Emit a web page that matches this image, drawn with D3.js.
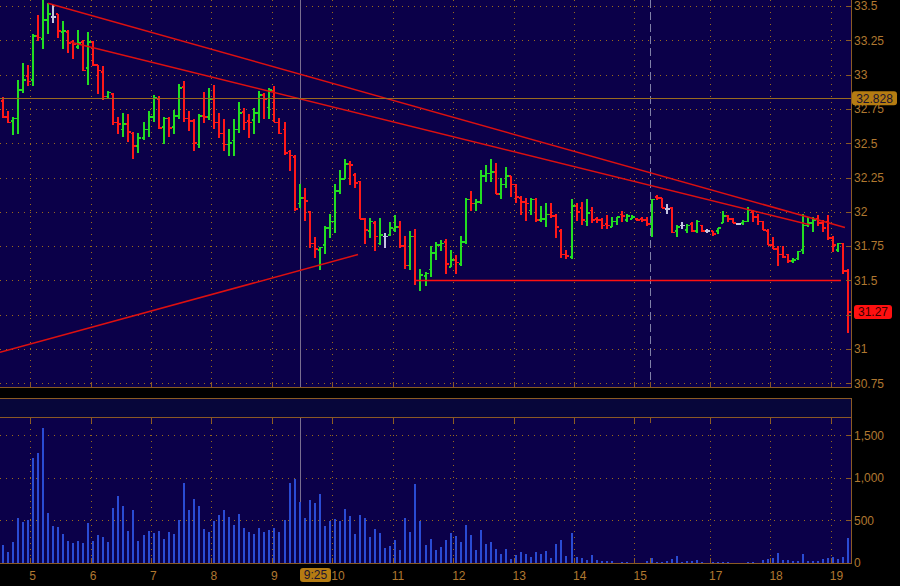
<!DOCTYPE html>
<html><head><meta charset="utf-8">
<script src="https://cdn.jsdelivr.net/npm/d3@7"></script>
<style>html,body{margin:0;padding:0;background:#000;overflow:hidden;} svg{display:block;}</style>
</head><body>
<svg id="c" width="900" height="586"></svg>
<script>
// ---------------- DATA ----------------
const sessions = [{start: "4:30", bars: 129}, {start: "16:00", bars: 40}];
const open = [32.81,32.69,32.66,32.68,32.89,32.99,32.96,33.28,33.26,33.40,33.42,33.44,33.31,33.31,33.24,33.20,33.24,33.05,33.24,33.07,
33.02,32.84,32.86,32.65,32.60,32.64,32.57,32.48,32.54,32.60,32.69,32.82,32.62,32.68,32.62,32.70,32.91,32.68,32.66,32.49,
32.70,32.69,32.82,32.65,32.57,32.49,32.52,32.60,32.73,32.66,32.67,32.72,32.85,32.76,32.88,32.65,32.60,32.44,32.40,32.06,
32.10,32.00,31.77,31.72,31.76,31.88,31.93,32.15,32.24,32.35,32.27,32.22,31.95,31.86,31.92,31.77,31.82,31.83,31.87,31.89,
31.75,31.61,31.82,31.50,31.53,31.58,31.70,31.76,31.78,31.60,31.65,31.62,31.78,32.09,32.06,32.07,32.26,32.28,32.29,32.13,
32.20,32.26,32.20,32.10,32.07,32.01,32.09,31.94,31.95,31.98,31.97,31.86,31.69,31.67,32.04,32.03,31.93,32.01,31.95,31.94,
31.91,31.89,31.93,31.98,31.94,31.95,31.95,31.95,31.94,31.91,32.11,32.10,32.02,32.03,31.86,31.90,31.87,31.91,31.86,31.90,
31.86,31.86,31.86,31.92,31.97,31.95,31.91,31.92,31.93,32.00,31.96,31.93,31.86,31.76,31.73,31.69,31.69,31.64,31.66,31.72,
31.90,31.92,31.95,31.92,31.93,31.81,31.72,31.77,31.57];
const high = [32.83,32.73,32.69,32.96,33.08,33.07,33.29,33.43,33.54,33.52,33.50,33.44,33.39,33.32,33.25,33.32,33.25,33.31,33.24,33.07,
33.06,32.88,32.86,32.69,32.72,32.71,32.58,32.57,32.65,32.73,32.85,32.84,32.69,32.69,32.74,32.93,32.95,32.73,32.67,32.71,
32.87,32.90,32.92,32.72,32.67,32.60,32.67,32.80,32.75,32.71,32.75,32.88,32.86,32.90,32.91,32.68,32.65,32.45,32.41,32.20,
32.17,32.00,31.81,31.74,31.89,31.98,32.20,32.30,32.38,32.37,32.28,32.22,31.95,31.95,31.93,31.95,31.84,31.92,31.97,31.93,
31.82,31.86,31.87,31.58,31.56,31.75,31.78,31.79,31.80,31.72,31.68,31.82,32.10,32.15,32.09,32.30,32.34,32.38,32.35,32.24,
32.32,32.26,32.20,32.11,32.10,32.10,32.10,32.04,32.06,32.06,31.98,31.87,31.72,32.09,32.06,32.07,32.09,32.03,31.96,31.95,
31.97,31.96,31.96,32.00,31.98,31.97,31.95,31.96,31.96,32.09,32.12,32.10,32.05,32.03,31.90,31.92,31.91,31.92,31.94,31.90,
31.87,31.86,31.88,32.00,31.97,31.95,31.91,31.94,32.03,32.01,31.98,31.93,31.87,31.81,31.75,31.75,31.69,31.66,31.71,31.98,
31.96,31.96,31.97,31.94,31.97,31.82,31.77,31.77,31.58];
const low = [32.69,32.65,32.56,32.57,32.87,32.92,32.92,33.25,33.19,33.30,33.38,33.27,33.19,33.16,33.12,33.19,33.03,32.93,33.07,32.86,
32.82,32.83,32.64,32.57,32.55,32.51,32.39,32.43,32.53,32.55,32.66,32.61,32.50,32.55,32.57,32.68,32.66,32.59,32.45,32.47,
32.65,32.67,32.61,32.54,32.45,32.41,32.41,32.58,32.60,32.54,32.57,32.65,32.68,32.68,32.66,32.57,32.42,32.30,32.01,32.03,
31.94,31.74,31.67,31.58,31.70,31.81,31.85,32.13,32.24,32.20,32.18,31.95,31.77,31.81,31.72,31.76,31.74,31.83,31.86,31.74,
31.59,31.58,31.47,31.43,31.46,31.53,31.65,31.72,31.55,31.60,31.55,31.61,31.77,32.01,32.01,32.06,32.22,32.22,32.13,32.10,
32.18,32.11,32.07,31.98,31.94,31.98,31.93,31.93,31.89,31.96,31.81,31.67,31.66,31.66,31.94,31.91,31.90,31.92,31.92,31.88,
31.88,31.89,31.91,31.93,31.93,31.95,31.94,31.93,31.90,31.82,32.09,32.03,31.99,31.85,31.82,31.88,31.85,31.86,31.85,31.86,
31.85,31.83,31.84,31.92,31.93,31.92,31.91,31.91,31.93,31.93,31.91,31.87,31.76,31.73,31.61,31.67,31.63,31.63,31.65,31.70,
31.89,31.86,31.90,31.86,31.80,31.71,31.71,31.55,31.12];
const close = [32.69,32.65,32.68,32.89,32.96,32.95,33.28,33.27,33.40,33.44,33.42,33.32,33.32,33.23,33.22,33.23,33.03,33.24,33.07,33.03,
32.84,32.87,32.65,32.64,32.64,32.58,32.48,32.54,32.60,32.69,32.83,32.61,32.68,32.61,32.70,32.90,32.68,32.66,32.50,32.70,
32.69,32.82,32.65,32.57,32.49,32.50,32.60,32.72,32.65,32.65,32.72,32.85,32.82,32.89,32.65,32.57,32.43,32.41,32.02,32.10,
32.08,31.77,31.73,31.74,31.88,31.93,32.15,32.24,32.35,32.34,32.21,31.95,31.87,31.93,31.82,31.83,31.82,31.88,31.89,31.75,
31.61,31.82,31.50,31.54,31.55,31.70,31.76,31.77,31.62,31.65,31.63,31.78,32.09,32.06,32.07,32.26,32.28,32.29,32.13,32.20,
32.26,32.20,32.11,32.07,32.06,32.09,31.94,31.95,31.98,31.97,31.89,31.69,31.68,32.04,32.00,31.94,31.99,31.94,31.94,31.90,
31.90,31.93,31.96,31.97,31.97,31.96,31.94,31.94,31.91,32.09,32.10,32.03,32.02,31.85,31.89,31.90,31.90,31.86,31.93,31.86,
31.86,31.84,31.88,31.97,31.95,31.92,31.91,31.93,32.01,31.96,31.93,31.87,31.76,31.73,31.69,31.67,31.64,31.65,31.71,31.90,
31.92,31.94,31.92,31.88,31.81,31.76,31.77,31.57,31.27];
const volume = [211,129,247,529,482,505,1234,1293,1586,588,435,423,341,259,235,259,235,470,259,329,
306,247,646,787,670,376,623,259,329,376,353,376,282,364,341,505,940,623,752,670,
400,364,494,564,623,541,447,576,411,364,341,411,364,388,411,364,505,940,987,717,
529,740,705,811,435,494,517,494,635,552,341,564,529,306,400,353,176,200,270,153,
529,364,928,494,211,282,153,188,270,353,317,247,447,329,153,388,223,247,165,106,
165,47,94,129,106,71,129,106,141,59,223,270,82,353,71,59,35,94,35,24,
24,24,0,12,12,0,0,0,24,59,12,12,24,47,82,12,24,24,35,12,
0,12,12,12,12,0,0,0,12,12,0,35,47,59,117,35,35,24,24,106,
24,24,24,47,59,71,47,71,294];
const priceTicks = [30.75,31,31.25,31.5,31.75,32,32.25,32.5,32.75,33,33.25,33.5];
const volumeTicks = [0,500,1000,1500];
const hourLabels = ["5","6","7","8","9","10","11","12","13","14","15","17","18","19"];
const trendLines = [
  {i1: 9, p1: 33.52, i2: 167.3, p2: 31.886},
  {i1: 13.4, p1: 33.238, i2: 160.3, p2: 31.906},
  {i1: -0.5, p1: 30.976, i2: 70.6, p2: 31.689}
];
const supportLine = {i1: 82, i2: 166.5, p: 31.5};
const cursorBar = 59, cursorPrice = 32.828, cursorTime = "9:25";
const lastPrice = 31.27;

// ---------------- LAYOUT ----------------
const plotRight = 851;
const priceTop = 0, priceBottom = 387;
const sepTop = 398, sepBottom = 417;
const volTop = 417, volBottom = 563;
const bg = "#0b0049", sepBg = "#07063a", border = "#8a5a24", gridCol = "#9a6a1c", labelCol = "#b07830";
const upCol = "#22dd22", downCol = "#ff1818", flatCol = "#c4c4e0";

const N = open.length;
const times = [];
sessions.forEach(s => {
  const [h, m] = s.start.split(":").map(Number);
  for (let j = 0; j < s.bars; j++) times.push(h * 60 + m + 5 * j);
});

const x = d3.scaleLinear().domain([-0.5, N - 0.5]).range([0, plotRight]);
const y = d3.scaleLinear().domain([30.7235, 33.5437]).range([priceBottom, priceTop]);
const yv = d3.scaleLinear().domain([0, 1715]).range([volBottom, volTop]);

const hourTicks = hourLabels.map(l => ({label: l, pos: x(times.indexOf(+l * 60) - 0.5)}));
const breaks = [];
for (let k = 1; k < N; k++) if (times[k] - times[k - 1] > 5) breaks.push(x(k - 0.5));

const svg = d3.select("#c");
svg.append("rect").attr("width", 900).attr("height", 586).attr("fill", "#000");
const defs = svg.append("defs");
defs.append("clipPath").attr("id", "pc").append("rect").attr("x", 0).attr("y", priceTop).attr("width", plotRight).attr("height", priceBottom - priceTop);
defs.append("clipPath").attr("id", "vc").append("rect").attr("x", 0).attr("y", volTop).attr("width", plotRight).attr("height", volBottom - volTop);

// panels
svg.append("rect").attr("x", 0).attr("y", priceTop).attr("width", plotRight).attr("height", priceBottom - priceTop).attr("fill", bg);
svg.append("rect").attr("x", 0).attr("y", sepTop).attr("width", plotRight).attr("height", sepBottom - sepTop).attr("fill", sepBg);
svg.append("rect").attr("x", 0).attr("y", volTop).attr("width", plotRight).attr("height", volBottom - volTop).attr("fill", bg);

const crisp = v => Math.round(v) + 0.5;

// grids
const g = svg.append("g").attr("stroke", gridCol).attr("stroke-width", 1).attr("stroke-dasharray", "1,5").attr("shape-rendering", "crispEdges");
priceTicks.forEach(p => g.append("line").attr("x1", 0).attr("x2", plotRight).attr("y1", crisp(y(p))).attr("y2", crisp(y(p))));
volumeTicks.filter(v => v > 0).forEach(v => g.append("line").attr("x1", 0).attr("x2", plotRight).attr("y1", crisp(yv(v))).attr("y2", crisp(yv(v))));
hourTicks.forEach(t => {
  g.append("line").attr("x1", crisp(t.pos)).attr("x2", crisp(t.pos)).attr("y1", priceTop).attr("y2", priceBottom);
  g.append("line").attr("x1", crisp(t.pos)).attr("x2", crisp(t.pos)).attr("y1", volTop).attr("y2", volBottom);
});
// session break dashed
breaks.forEach(b => svg.append("line").attr("x1", crisp(b)).attr("x2", crisp(b)).attr("y1", priceTop).attr("y2", priceBottom)
  .attr("stroke", "#8080a8").attr("stroke-dasharray", "8,4").attr("shape-rendering", "crispEdges"));

// crosshair vertical
const cx = crisp(x(cursorBar));
[[priceTop, priceBottom], [volTop, volBottom]].forEach(([a, b]) =>
  svg.append("line").attr("x1", cx).attr("x2", cx).attr("y1", a).attr("y2", b).attr("stroke", "#7a6e90").attr("shape-rendering", "crispEdges"));

// OHLC bars
const bars = svg.append("g").attr("clip-path", "url(#pc)").attr("stroke-width", 1.7).attr("shape-rendering", "crispEdges");
const bw = x(1) - x(0);
d3.range(N).forEach(k => {
  const col = close[k] > open[k] ? upCol : close[k] < open[k] ? downCol : flatCol;
  const xc = Math.round(x(k));
  const gg = bars.append("g").attr("stroke", col);
  gg.append("line").attr("x1", xc).attr("x2", xc).attr("y1", y(high[k]) - 0.5).attr("y2", y(low[k]) + 0.5);
  gg.append("line").attr("x1", xc - 2.5).attr("x2", xc).attr("y1", y(open[k])).attr("y2", y(open[k]));
  gg.append("line").attr("x1", xc).attr("x2", xc + 2.5).attr("y1", y(close[k])).attr("y2", y(close[k]));
});

// volume bars
svg.append("g").attr("clip-path", "url(#vc)").selectAll("rect").data(volume).join("rect")
  .attr("x", (d, k) => Math.round(x(k)) - 1).attr("width", 2)
  .attr("y", d => yv(d)).attr("height", d => yv(0) - yv(d))
  .attr("fill", "#2a4bd4").attr("shape-rendering", "crispEdges");

// trend lines
const tl = svg.append("g").attr("clip-path", "url(#pc)");
trendLines.forEach(t => tl.append("line").attr("x1", x(t.i1)).attr("y1", y(t.p1)).attr("x2", x(t.i2)).attr("y2", y(t.p2))
  .attr("stroke", "#dd1010").attr("stroke-width", 1.5));
tl.append("line").attr("x1", x(supportLine.i1)).attr("x2", x(supportLine.i2)).attr("y1", y(supportLine.p)).attr("y2", y(supportLine.p))
  .attr("stroke", "#ff1010").attr("stroke-width", 1.5);

// crosshair horizontal
svg.append("line").attr("x1", 0).attr("x2", plotRight).attr("y1", crisp(y(cursorPrice))).attr("y2", crisp(y(cursorPrice)))
  .attr("stroke", "#9a6a1e").attr("stroke-width", 1).attr("shape-rendering", "crispEdges");

// borders & ticks
const b = svg.append("g").attr("stroke", border).attr("stroke-width", 1).attr("shape-rendering", "crispEdges");
[[priceBottom], [sepTop], [sepBottom], [volBottom]].forEach(([yy]) =>
  b.append("line").attr("x1", 0).attr("x2", plotRight + 0.5).attr("y1", yy + 0.5).attr("y2", yy + 0.5));
b.append("line").attr("x1", plotRight + 0.5).attr("x2", plotRight + 0.5).attr("y1", priceTop).attr("y2", priceBottom + 1);
b.append("line").attr("x1", plotRight + 0.5).attr("x2", plotRight + 0.5).attr("y1", sepTop).attr("y2", volBottom + 1);
const allX = hourTicks.map(t => t.pos).concat(breaks);
allX.forEach(px => {
  const xx = crisp(px);
  b.append("line").attr("x1", xx).attr("x2", xx).attr("y1", priceBottom - 5).attr("y2", priceBottom);
  b.append("line").attr("x1", xx).attr("x2", xx).attr("y1", volTop).attr("y2", volTop + 6);
  b.append("line").attr("x1", xx).attr("x2", xx).attr("y1", volBottom - 5).attr("y2", volBottom);
});
priceTicks.forEach(p => b.append("line").attr("x1", plotRight - 5).attr("x2", plotRight).attr("y1", crisp(y(p))).attr("y2", crisp(y(p))));
volumeTicks.forEach(v => b.append("line").attr("x1", plotRight - 5).attr("x2", plotRight).attr("y1", crisp(yv(v))).attr("y2", crisp(yv(v))));

// labels
const font = "'Liberation Sans', Arial, sans-serif";
const lab = svg.append("g").attr("font-family", font).attr("font-size", 12).attr("fill", labelCol);
priceTicks.forEach(p => lab.append("text").attr("x", 854).attr("y", y(p) + 4.3).text(d3.format("")(p)));
volumeTicks.forEach(v => lab.append("text").attr("x", 854).attr("y", yv(v) + 4.3).text(d3.format(",")(v)));
hourTicks.forEach(t => lab.append("text").attr("x", t.pos - 1).attr("y", 580).text(t.label));

// value boxes
function box(x0, yc, w, fill, txt, txtCol) {
  svg.append("rect").attr("x", x0).attr("y", yc - 7).attr("width", w).attr("height", 14).attr("rx", 3).attr("fill", fill);
  svg.append("text").attr("x", x0 + w / 2).attr("y", yc + 4.3).attr("text-anchor", "middle")
    .attr("font-family", font).attr("font-size", 12).attr("fill", txtCol).text(txt);
}
box(852, y(cursorPrice), 45, "#b57c12", d3.format(".3f")(cursorPrice), "#1c1430");
box(854, y(lastPrice), 38, "#ff1010", d3.format(".2f")(lastPrice), "#3a0000");
box(cx - 0.5, 575, 31, "#b57c12", cursorTime, "#1c1430");
</script>
</body></html>
